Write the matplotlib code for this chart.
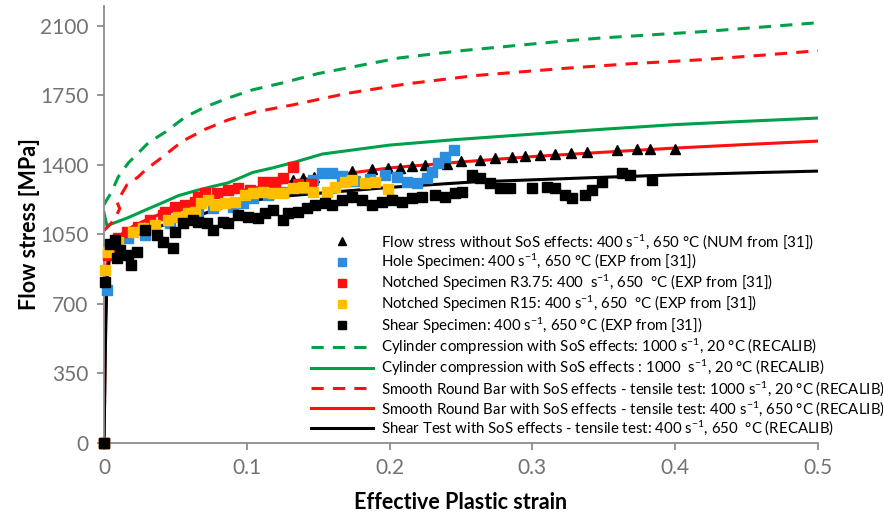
import numpy as np
import matplotlib
matplotlib.use('Agg')
import matplotlib.pyplot as plt

plt.rcParams['font.family'] = ['Lato', 'DejaVu Sans']
plt.rcParams['mathtext.fontset'] = 'custom'
plt.rcParams['mathtext.rm'] = 'Lato'
plt.rcParams['mathtext.it'] = 'Lato:italic'
plt.rcParams['mathtext.bf'] = 'Lato:bold'

# ---- data ----
tri_x = [0, 0.132, 0.139, 0.147, 0.174, 0.188, 0.199, 0.207, 0.216, 0.225, 0.240, 0.250,
         0.263, 0.274, 0.286, 0.295, 0.305, 0.316, 0.327, 0.338, 0.359, 0.373, 0.382, 0.400]
tri_y = [0, 1323, 1333, 1338, 1369, 1379, 1384, 1386, 1394, 1400, 1407, 1419,
         1424, 1434, 1439, 1444, 1449, 1454, 1459, 1464, 1474, 1480, 1480, 1482]

hole_x = [0, 0.002, 0.008, 0.017, 0.029, 0.046, 0.06, 0.066, 0.076, 0.09, 0.097, 0.104,
          0.115, 0.125, 0.139, 0.146, 0.153, 0.16, 0.167, 0.176, 0.186, 0.197, 0.205,
          0.212, 0.219, 0.226, 0.23, 0.234, 0.239, 0.245]
hole_y = [0, 770, 1007, 1032, 1048, 1108, 1140, 1158, 1183, 1188, 1209, 1234,
          1250, 1265, 1284, 1324, 1359, 1359, 1345, 1320, 1330, 1349, 1339,
          1314, 1309, 1334, 1364, 1410, 1440, 1475]

r375_x = [0, 0.003, 0.005, 0.01, 0.016, 0.024, 0.032, 0.041, 0.043, 0.05, 0.057, 0.064,
          0.066, 0.071, 0.079, 0.087, 0.094, 0.102, 0.111, 0.118, 0.12, 0.125, 0.132,
          0.136, 0.145]
r375_y = [0, 947, 982, 1030, 1063, 1088, 1123, 1148, 1163, 1188, 1199, 1214,
          1239, 1259, 1259, 1274, 1284, 1274, 1314, 1314, 1284, 1334, 1390,
          1305, 1305]

r15_x = [0, 0.0007, 0.003, 0.01, 0.02, 0.027, 0.036, 0.045, 0.052, 0.059, 0.064, 0.068,
         0.073, 0.078, 0.085, 0.092, 0.099, 0.104, 0.111, 0.118, 0.125, 0.132, 0.139,
         0.146, 0.156, 0.162, 0.169, 0.174, 0.183, 0.19, 0.199]
r15_y = [0, 871, 960, 1012, 1063, 1083, 1098, 1123, 1138, 1158, 1163, 1209,
         1224, 1199, 1209, 1214, 1249, 1259, 1264, 1259, 1259, 1284, 1289,
         1264, 1264, 1289, 1314, 1324, 1309, 1314, 1279]

shear_x = [0, 0.001, 0.004, 0.008, 0.009, 0.011, 0.017, 0.019, 0.023, 0.029, 0.037, 0.041,
           0.048, 0.05, 0.055, 0.062, 0.066, 0.072, 0.076, 0.083, 0.087, 0.094, 0.101,
           0.108, 0.113, 0.118, 0.125, 0.129, 0.136, 0.142, 0.148, 0.155, 0.16, 0.167,
           0.174, 0.181, 0.188, 0.195, 0.202, 0.209, 0.216, 0.223, 0.232, 0.239, 0.246,
           0.251, 0.258, 0.263, 0.27, 0.277, 0.284, 0.3, 0.31, 0.316, 0.323, 0.328,
           0.337, 0.342, 0.349, 0.363, 0.368, 0.384]
shear_y = [0, 812, 1000, 1022, 932, 972, 947, 896, 962, 1073, 1048, 1012,
           982, 1063, 1108, 1123, 1113, 1108, 1073, 1113, 1108, 1148, 1138,
           1133, 1158, 1173, 1123, 1158, 1163, 1183, 1199, 1209, 1199, 1224,
           1239, 1224, 1199, 1214, 1224, 1214, 1234, 1239, 1249, 1239, 1259,
           1264, 1349, 1334, 1309, 1284, 1284, 1284, 1289, 1284, 1249, 1234,
           1249, 1274, 1314, 1359, 1349, 1324]

cyl1000_x = [0, 0.002, 0.005, 0.01, 0.017, 0.031, 0.043, 0.057, 0.071, 0.087, 0.104, 0.125,
             0.15, 0.207, 0.25, 0.324, 0.35, 0.417, 0.45, 0.5]
cyl1000_y = [1200, 1225, 1259, 1340, 1410, 1511, 1566, 1642, 1692, 1737, 1778, 1813,
             1860, 1939, 1975, 2025, 2040, 2070, 2088, 2116]

cyl_x = [0, 0.002, 0.006, 0.017, 0.029, 0.041, 0.052, 0.064, 0.075, 0.087, 0.097, 0.104,
         0.118, 0.134, 0.153, 0.2, 0.247, 0.3, 0.35, 0.4, 0.45, 0.5]
cyl_y = [1160, 1095, 1105, 1135, 1173, 1210, 1245, 1270, 1290, 1310, 1340, 1362,
         1385, 1415, 1455, 1500, 1528, 1555, 1580, 1603, 1620, 1636]

srb1000_x = [0, 0.005, 0.009, 0.011, 0.009, 0.012, 0.016, 0.024, 0.029, 0.041, 0.055, 0.071,
             0.087, 0.106, 0.132, 0.17, 0.212, 0.26, 0.324, 0.37, 0.417, 0.46, 0.5]
srb1000_y = [1070, 1106, 1150, 1180, 1215, 1250, 1299, 1340, 1375, 1440, 1520, 1580,
             1627, 1667, 1702, 1760, 1808, 1850, 1887, 1910, 1929, 1952, 1975]

srb_x = [0, 0.001, 0.002, 0.004, 0.01, 0.02, 0.03, 0.045, 0.06, 0.08, 0.1, 0.125, 0.15,
         0.2, 0.25, 0.3, 0.35, 0.4, 0.45, 0.5]
srb_y = [0, 600, 900, 985, 1040, 1090, 1125, 1170, 1205, 1245, 1275, 1310, 1338,
         1385, 1415, 1442, 1464, 1485, 1503, 1520]

sht_x = [0, 0.001, 0.002, 0.004, 0.01, 0.02, 0.03, 0.045, 0.067, 0.085, 0.107, 0.13, 0.153,
         0.2, 0.258, 0.3, 0.35, 0.4, 0.45, 0.5]
sht_y = [0, 500, 820, 940, 1000, 1040, 1070, 1105, 1148, 1190, 1224, 1245, 1259,
         1287, 1314, 1325, 1338, 1350, 1360, 1369]

s1 = r'$\mathregular{s^{-1}}$'
labels = [
    f'Flow stress without SoS effects: 400 {s1}, 650 °C (NUM from [31])',
    f'Hole Specimen: 400 {s1}, 650 °C (EXP from [31])',
    f'Notched Specimen R3.75: 400  {s1}, 650  °C (EXP from [31])',
    f'Notched Specimen R15: 400 {s1}, 650  °C (EXP from [31])',
    f'Shear Specimen: 400 {s1}, 650 °C (EXP from [31])',
    f'Cylinder compression with SoS effects: 1000 {s1}, 20 °C (RECALIB)',
    f'Cylinder compression with SoS effects : 1000  {s1}, 20 °C (RECALIB)',
    f'Smooth Round Bar with SoS effects - tensile test: 1000 {s1}, 20 °C (RECALIB)',
    f'Smooth Round Bar with SoS effects - tensile test: 400 {s1}, 650 °C (RECALIB)',
    f'Shear Test with SoS effects - tensile test: 400 {s1}, 650  °C (RECALIB)',
]

green = '#00A04A'
red = '#FF1010'
blue = '#2A8DE0'
orange = '#FFBF00'

fig = plt.figure(figsize=(8.83, 5.19), dpi=100)
ax = fig.add_axes([0.1178, 0.1464, 0.8086, 0.842])

lw = 2.2
l_cd, = ax.plot(cyl1000_x, cyl1000_y, color=green, lw=lw, dashes=(4, 3), zorder=2)
l_c, = ax.plot(cyl_x, cyl_y, color=green, lw=lw, zorder=2)
l_sd, = ax.plot(srb1000_x, srb1000_y, color=red, lw=lw, dashes=(4, 3), zorder=2)
l_s, = ax.plot(srb_x, srb_y, color=red, lw=lw, zorder=2)
l_t, = ax.plot(sht_x, sht_y, color='black', lw=lw, zorder=2)

ms = 7
m_tri, = ax.plot(tri_x, tri_y, ls='none', marker='^', ms=ms, color='black', zorder=3, clip_on=False)
m_hole, = ax.plot(hole_x, hole_y, ls='none', marker='s', ms=ms, color=blue, zorder=3, clip_on=False)
m_r375, = ax.plot(r375_x, r375_y, ls='none', marker='s', ms=ms, color=red, zorder=3, clip_on=False)
m_r15, = ax.plot(r15_x, r15_y, ls='none', marker='s', ms=ms, color=orange, zorder=3, clip_on=False)
m_sh, = ax.plot(shear_x, shear_y, ls='none', marker='s', ms=ms, color='black', zorder=3, clip_on=False)

ax.set_xlim(0, 0.5)
ax.set_ylim(0, 2200)
ax.set_yticks(np.arange(0, 2101, 350))
ax.set_xticks(np.arange(0, 0.51, 0.1))
ax.set_xticklabels(['0', '0.1', '0.2', '0.3', '0.4', '0.5'])

for s in ['top', 'right']:
    ax.spines[s].set_visible(False)
for s in ['left', 'bottom']:
    ax.spines[s].set_color('#8c8c8c')
    ax.spines[s].set_linewidth(1.3)
ax.tick_params(colors='#8c8c8c', width=1.3, length=5, labelcolor='#727272', labelsize=15)
ax.tick_params(axis='y', pad=6)
ax.tick_params(axis='x', pad=6)

ax.set_ylabel('Flow stress [MPa]', fontsize=15.5, fontweight='bold', labelpad=0)
ax.set_xlabel('Effective Plastic strain', fontsize=15.5, fontweight='bold', labelpad=10)

handles = [m_tri, m_hole, m_r375, m_r15, m_sh, l_cd, l_c, l_sd, l_s, l_t]
leg = ax.legend(handles, labels, loc='upper left', bbox_to_anchor=(311 / 883, 1 - 232 / 519),
                bbox_transform=fig.transFigure, frameon=False, fontsize=10.8,
                handlelength=4.1, handletextpad=0.55, labelspacing=0.06,
                borderpad=0, borderaxespad=0, numpoints=1, markerscale=0.85)

fig.savefig('out.png', dpi=100)
